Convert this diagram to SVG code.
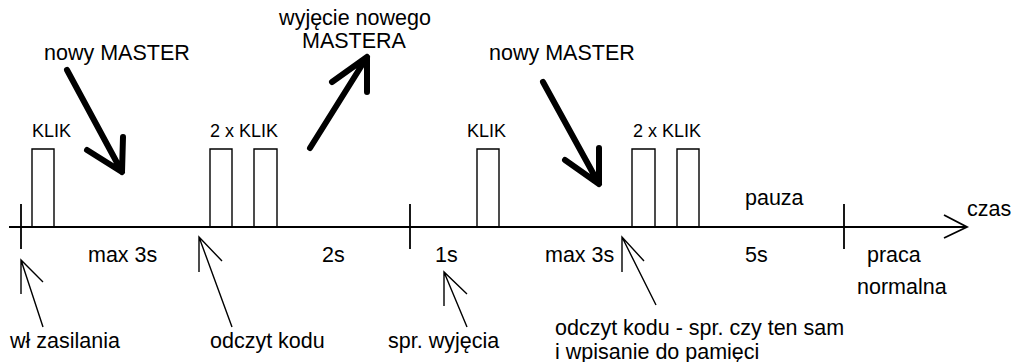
<svg xmlns="http://www.w3.org/2000/svg" width="1013" height="362" viewBox="0 0 1013 362">
<style>
text{font-family:"Liberation Sans",Arial,sans-serif;fill:#000}
.l{font-size:21.5px}
.k{font-size:18px}
.thin{fill:none;stroke:#000;stroke-width:1.4}
.thick{fill:none;stroke:#000;stroke-width:6;stroke-linecap:round;stroke-linejoin:round}
.axis{fill:none;stroke:#000;stroke-width:1.8}
</style>
<rect width="1013" height="362" fill="#fff"/>
<g id="connectors">
<path class="axis" d="M9 227H967M944 215L967 227L944 238"/>
<path class="axis" d="M21 204V249M410 204V249M844 204V249"/>
<path class="thin" d="M32 227V149H54V227M210 227V149H232V227M254 227V149H277V227M477 227V149H499V227M632 227V149H655V227M677 227V149H699V227"/>
<path class="thin" d="M43 327L21 260M21 294V260L43 282"/>
<path class="thin" d="M232 327L199 237M199 272V237L222 261"/>
<path class="thin" d="M467 327L444 272M444 306V272L467 294"/>
<path class="thin" d="M656 305L622 237M622 272V237L644 261"/>
<path class="thick" d="M67 70L122 172M87 150L122 172L123 137"/>
<path class="thick" d="M310 148L367 57M332 82L367 57L367 92"/>
<path class="thick" d="M543 82L599 184M565 160L599 184L599 148"/>
</g>
<g id="labels">
<text class="l" x="44" y="60">nowy MASTER</text>
<text class="l" x="489" y="60">nowy MASTER</text>
<text class="l" x="355" y="25" text-anchor="middle">wyjęcie nowego</text>
<text class="l" x="354" y="48" text-anchor="middle">MASTERA</text>
<text class="k" x="32" y="137">KLIK</text>
<text class="k" x="210" y="137">2 x KLIK</text>
<text class="k" x="467" y="137">KLIK</text>
<text class="k" x="633" y="137">2 x KLIK</text>
<text class="l" x="745" y="205">pauza</text>
<text class="l" x="967" y="216">czas</text>
<text class="l" x="88" y="262">max 3s</text>
<text class="l" x="322" y="262">2s</text>
<text class="l" x="435" y="262">1s</text>
<text class="l" x="545" y="262">max 3s</text>
<text class="l" x="745" y="262">5s</text>
<text class="l" x="867" y="262">praca</text>
<text class="l" x="857" y="294">normalna</text>
<text class="l" x="10" y="348">wł zasilania</text>
<text class="l" x="210" y="348">odczyt kodu</text>
<text class="l" x="388" y="348">spr. wyjęcia</text>
<text class="l" x="555" y="335">odczyt kodu - spr. czy ten sam</text>
<text class="l" x="555" y="359">i wpisanie do pamięci</text>
</g>
</svg>
